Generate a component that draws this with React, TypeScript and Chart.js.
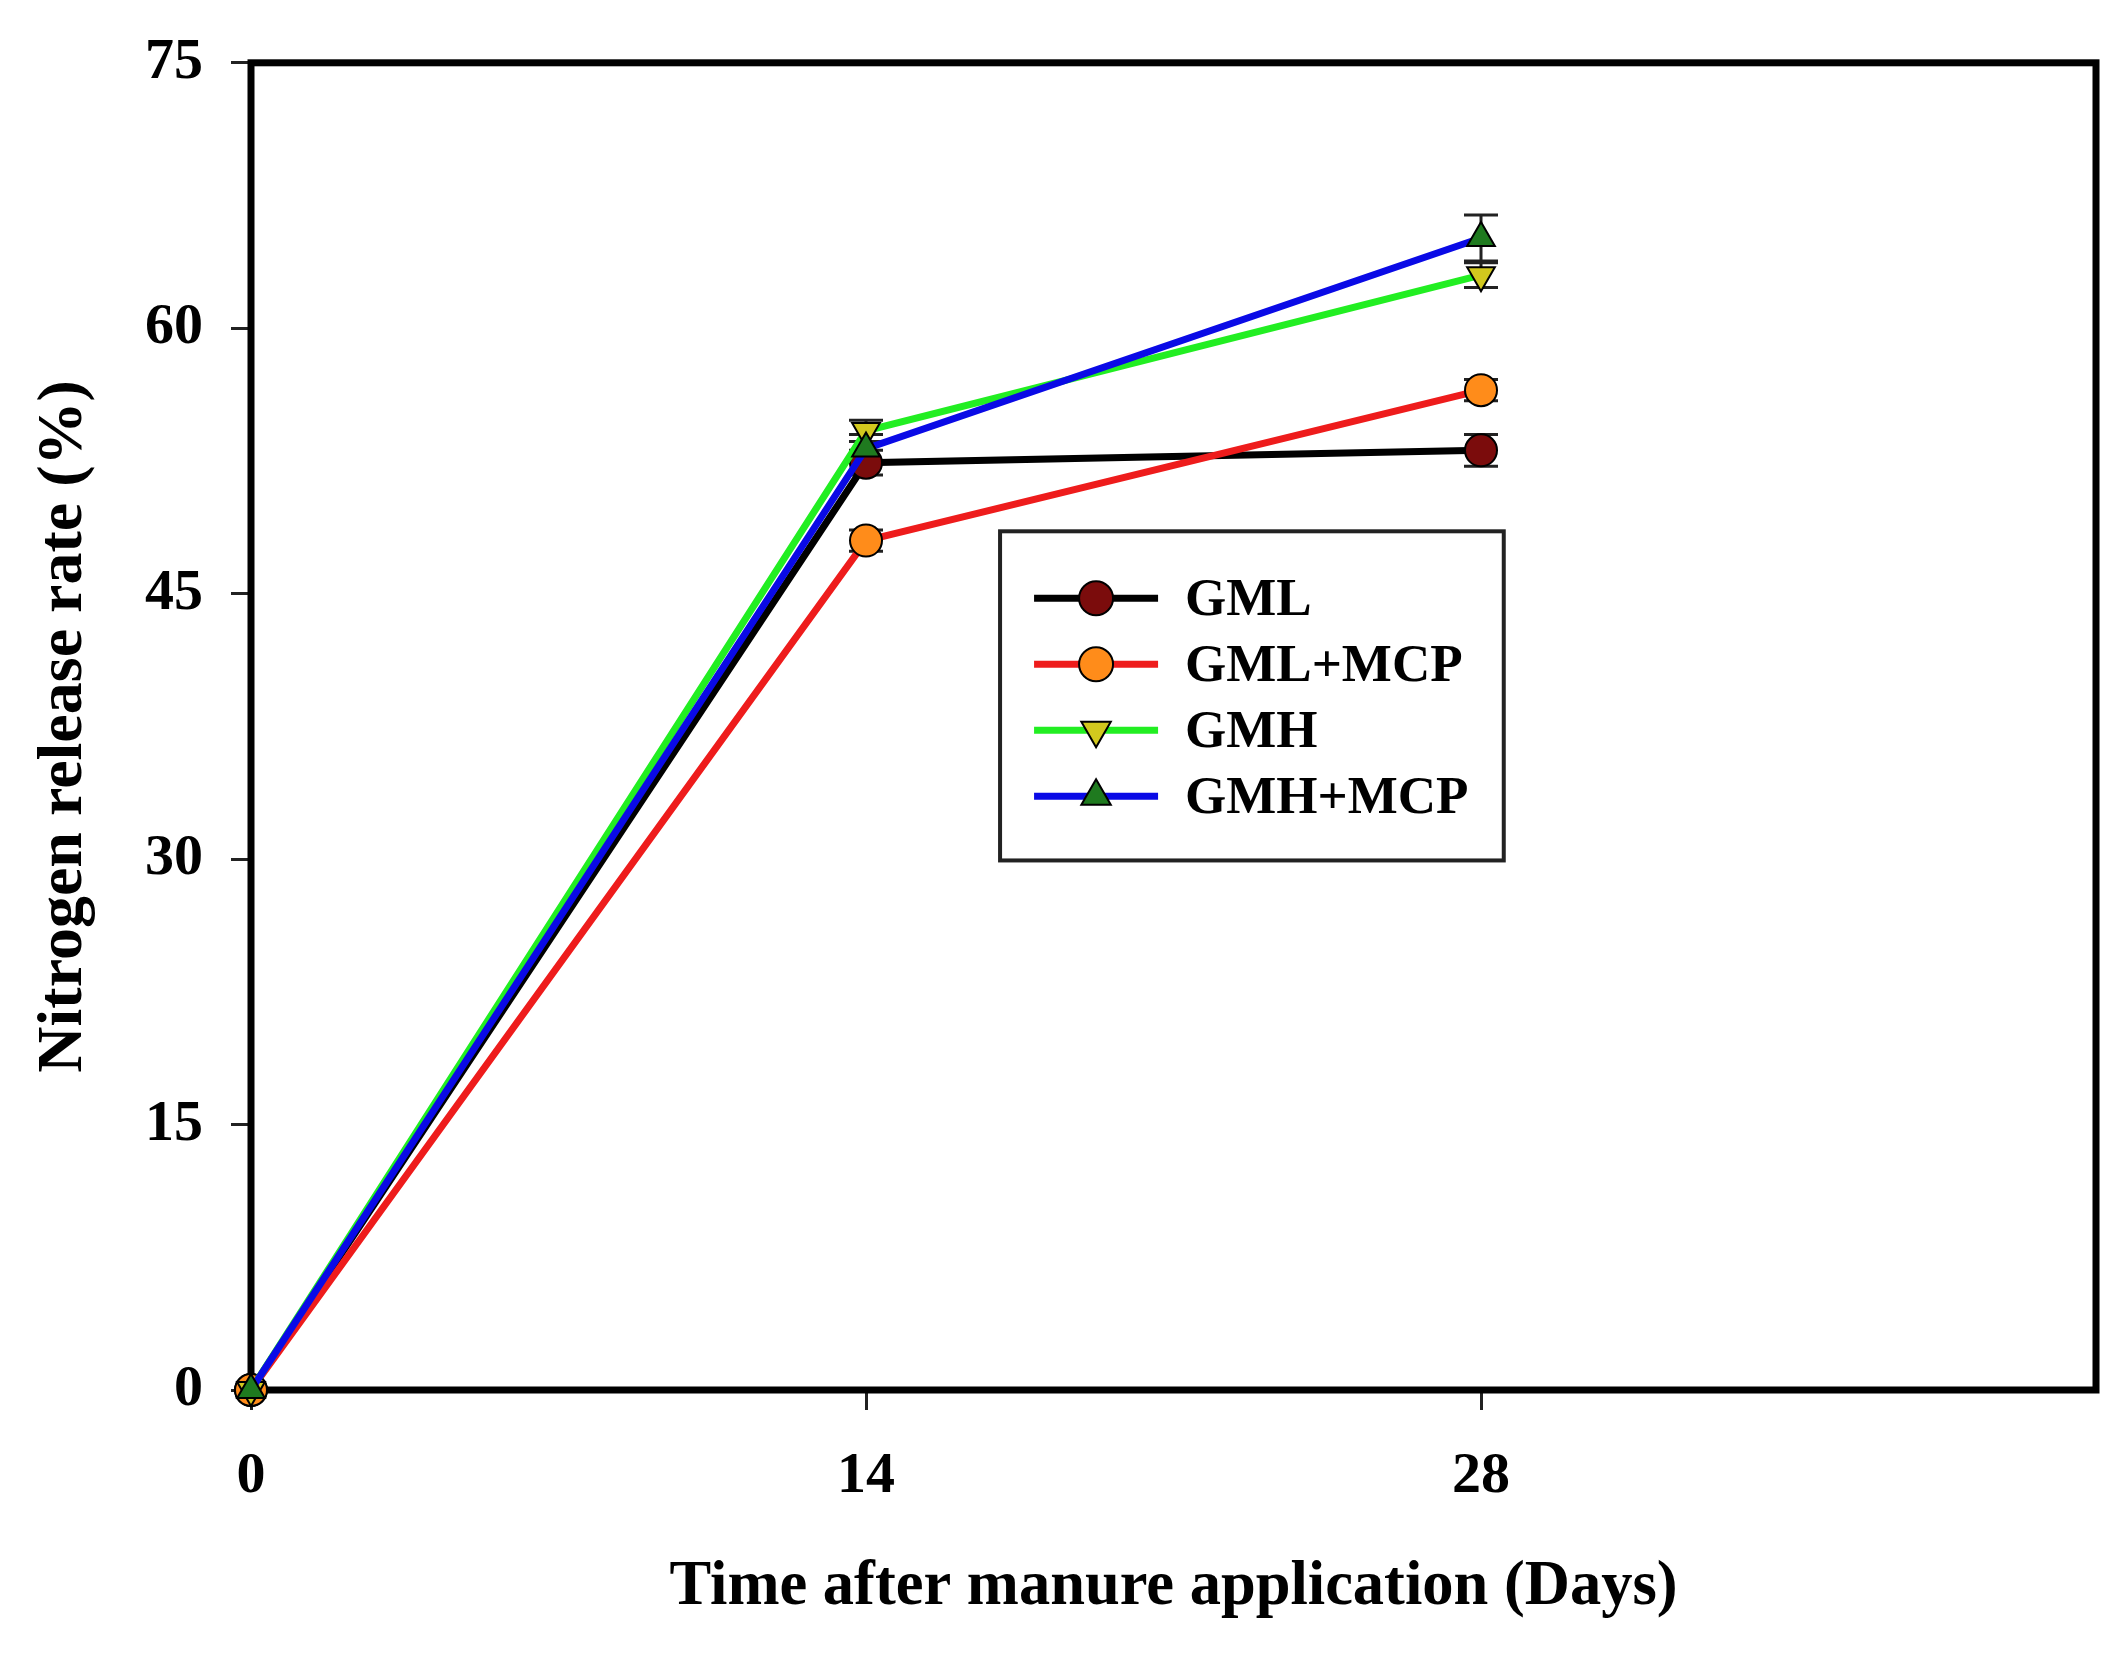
import { useRef, useEffect } from "react";
import { Chart, registerables } from "chart.js";
import type { Plugin } from "chart.js";
import { drawPoint } from "chart.js/helpers";

Chart.register(...registerables);

const days = [0, 14, 28];
const seriesLabels = ["GML", "GML+MCP", "GMH", "GMH+MCP"];
const gml = [0, 52.4, 53.1];
const gmlErr = [0, 0.7, 0.9];
const gmlMcp = [0, 48.0, 56.5];
const gmlMcpErr = [0, 0.6, 0.6];
const gmh = [0, 54.2, 63.0];
const gmhErr = [0, 0.6, 0.7];
const gmhMcp = [0, 53.2, 65.1];
const gmhMcpErr = [0, 0.8, 1.3];
const yTicks = [0, 15, 30, 45, 60, 75];
const xTickLabels = [0, 14, 28];

const FONT = "'Liberation Serif', 'Times New Roman', serif";

const toPoints = (vals: number[]) => days.map((d, i) => ({ x: d, y: vals[i] }));

// frame round the plot area, under the marks
const framePlugin: Plugin = {
  id: "frame",
  beforeDatasetsDraw(chart) {
    const { ctx, chartArea: a } = chart;
    ctx.save();
    ctx.strokeStyle = "#000";
    ctx.lineWidth = 7;
    ctx.strokeRect(a.left, a.top, a.right - a.left, a.bottom - a.top);
    ctx.restore();
  },
};

const errorBarPlugin: Plugin = {
  id: "errorBars",
  beforeDatasetsDraw(chart) {
    const { ctx } = chart;
    const yScale = chart.scales.y;
    ctx.save();
    ctx.strokeStyle = "#222";
    ctx.lineWidth = 3;
    chart.data.datasets.forEach((ds: any, i) => {
      const meta = chart.getDatasetMeta(i);
      meta.data.forEach((el: any, j) => {
        const e = ds.errors?.[j];
        if (!e) return;
        const v = (ds.data[j] as any).y;
        const top = yScale.getPixelForValue(v + e);
        const bot = yScale.getPixelForValue(v - e);
        const cap = 17;
        ctx.beginPath();
        ctx.moveTo(el.x, top);
        ctx.lineTo(el.x, bot);
        ctx.moveTo(el.x - cap, top);
        ctx.lineTo(el.x + cap, top);
        ctx.moveTo(el.x - cap, bot);
        ctx.lineTo(el.x + cap, bot);
        ctx.stroke();
      });
    });
    ctx.restore();
  },
};

// legend box inside the plot area
const legendBoxPlugin: Plugin = {
  id: "legendBox",
  afterDraw(chart) {
    const { ctx, chartArea: a } = chart;
    const w = a.right - a.left;
    const h = a.bottom - a.top;
    const x0 = a.left + w * 0.406;
    const x1 = a.left + w * 0.679;
    const y0 = a.top + h * 0.353;
    const y1 = a.top + h * 0.601;
    ctx.save();
    ctx.fillStyle = "#fff";
    ctx.fillRect(x0, y0, x1 - x0, y1 - y0);
    ctx.strokeStyle = "#222";
    ctx.lineWidth = 4;
    ctx.strokeRect(x0, y0, x1 - x0, y1 - y0);
    ctx.font = `bold 53px ${FONT}`;
    ctx.textBaseline = "middle";
    chart.data.datasets.forEach((ds: any, i) => {
      const y = y0 + 67 + i * 66;
      const lx0 = x0 + 34;
      const lx1 = x0 + 158;
      ctx.strokeStyle = ds.borderColor;
      ctx.lineWidth = 7;
      ctx.beginPath();
      ctx.moveTo(lx0, y);
      ctx.lineTo(lx1, y);
      ctx.stroke();
      ctx.fillStyle = ds.pointBackgroundColor;
      ctx.strokeStyle = ds.pointBorderColor;
      ctx.lineWidth = ds.pointBorderWidth;
      drawPoint(ctx, {
        pointStyle: ds.pointStyle,
        radius: 17,
        rotation: ds.pointRotation,
        borderWidth: ds.pointBorderWidth,
      }, (lx0 + lx1) / 2, y);
      ctx.fillStyle = "#000";
      ctx.fillText(ds.label, x0 + 185, y + 3);
    });
    ctx.restore();
  },
};

export default function App() {
  const canvasRef = useRef<HTMLCanvasElement | null>(null);
  const chartRef = useRef<Chart | null>(null);

  useEffect(() => {
    if (!canvasRef.current) return;
    if (chartRef.current) chartRef.current.destroy();

    const common = {
      borderWidth: 7,
      pointRadius: 16,
      pointBorderColor: "#000",
      pointBorderWidth: 2,
      tension: 0,
      clip: false,
    };

    chartRef.current = new Chart(canvasRef.current, {
      type: "line",
      data: {
        datasets: [
          {
            ...common,
            label: seriesLabels[0],
            data: toPoints(gml),
            errors: gmlErr,
            borderColor: "#000000",
            pointBackgroundColor: "#7b0c0c",
            pointStyle: "circle",
            pointRotation: 0,
            order: 4,
          },
          {
            ...common,
            label: seriesLabels[1],
            data: toPoints(gmlMcp),
            errors: gmlMcpErr,
            borderColor: "#ee1c1c",
            pointBackgroundColor: "#ff8c1a",
            pointStyle: "circle",
            pointRotation: 0,
            order: 3,
          },
          {
            ...common,
            label: seriesLabels[2],
            data: toPoints(gmh),
            errors: gmhErr,
            borderColor: "#22ee22",
            pointBackgroundColor: "#d2c81e",
            pointStyle: "triangle",
            pointRotation: 180,
            order: 2,
          },
          {
            ...common,
            label: seriesLabels[3],
            data: toPoints(gmhMcp),
            errors: gmhMcpErr,
            borderColor: "#0a0ae6",
            pointBackgroundColor: "#1f7a1f",
            pointStyle: "triangle",
            pointRotation: 0,
            order: 1,
          },
        ] as any,
      },
      options: {
        animation: false,
        responsive: true,
        maintainAspectRatio: false,
        events: [],
        layout: { padding: { top: 61, right: 31, left: 0, bottom: 0 } },
        plugins: {
          legend: { display: false },
          tooltip: { enabled: false },
        },
        scales: {
          x: {
            type: "linear",
            min: 0,
            max: 42,
            afterFit: (s) => {
              s.height = 265;
            },
            afterBuildTicks: (s) => {
              s.ticks = [...xTickLabels, 42].map((v) => ({ value: v }));
            },
            border: { display: false },
            grid: {
              drawOnChartArea: false,
              drawTicks: true,
              tickLength: 20,
              tickWidth: 3,
              tickColor: (c: any) => (c.tick && c.tick.value === 42 ? "rgba(0,0,0,0)" : "#222"),
            },
            ticks: {
              padding: 32,
              color: "#000",
              font: { family: FONT, size: 58, weight: "bold" },
              callback: (v) => (xTickLabels.includes(Number(v)) ? String(v) : ""),
            },
            title: {
              display: true,
              text: "Time after manure application (Days)",
              color: "#000",
              font: { family: FONT, size: 62.5, weight: "bold" },
              padding: { top: 0, bottom: 30 },
            },
          },
          y: {
            type: "linear",
            min: 0,
            max: 75,
            afterFit: (s) => {
              s.width = 251;
            },
            afterBuildTicks: (s) => {
              s.ticks = yTicks.map((v) => ({ value: v }));
            },
            border: { display: false },
            grid: {
              drawOnChartArea: false,
              drawTicks: true,
              tickLength: 20,
              tickWidth: 3,
              tickColor: "#222",
            },
            ticks: {
              padding: 28,
              color: "#000",
              font: { family: FONT, size: 58, weight: "bold" },
            },
            title: {
              display: true,
              text: "Nitrogen release rate (%)",
              color: "#000",
              font: { family: FONT, size: 64, weight: "bold" },
              padding: { top: 26, bottom: 0 },
            },
          },
        },
      },
      plugins: [framePlugin, errorBarPlugin, legendBoxPlugin],
    });

    return () => chartRef.current?.destroy();
  }, []);

  return (
    <div style={{ position: "fixed", left: 0, top: 0, width: 2128, height: 1655, background: "#fff" }}>
      <canvas ref={canvasRef} />
    </div>
  );
}
